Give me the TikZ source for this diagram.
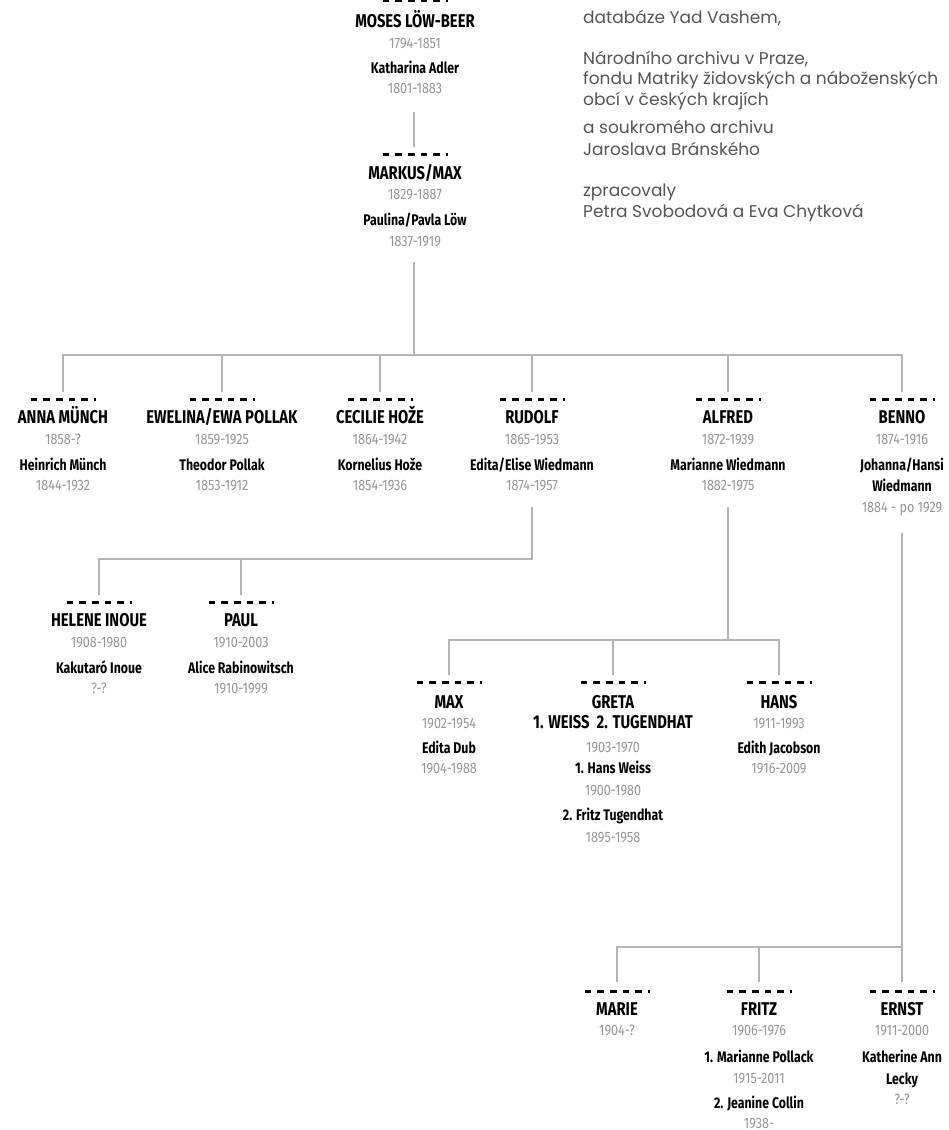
\documentclass[tikz,border=0pt]{standalone}
\usepackage{fontspec}
\newfontfamily\cf[FakeStretch=0.8]{Fira Sans}
\newfontfamily\df[FakeStretch=0.84]{Fira Sans}
\newfontfamily\rf{Poppins}
\definecolor{lnc}{RGB}{180,180,180}
\definecolor{dtc}{RGB}{150,150,150}
\definecolor{txc}{RGB}{85,85,85}
\tikzset{
 nm/.style={anchor=base, yshift=-6.3pt, inner sep=0pt, font=\cf\bfseries\fontsize{18.5}{18.5}\selectfont},
 sp/.style={anchor=base, yshift=-5.3pt, inner sep=0pt, font=\cf\bfseries\fontsize{15.4}{15.4}\selectfont},
 dt/.style={anchor=base, yshift=-5.2pt, inner sep=0pt, text=dtc, font=\df\fontsize{15}{15}\selectfont},
 rt/.style={anchor=base west, yshift=-5.5pt, inner sep=0pt, text=txc, font=\rf\fontsize{17}{17}\selectfont},
 conn/.style={draw=lnc, line width=1.8pt},
 dmark/.style={line width=3pt, dash pattern=on 6.7pt off 6pt},
}
\begin{document}
\begin{tikzpicture}[x=1pt,y=-1pt]
\useasboundingbox (0,0) rectangle (948,1130);
\fill[white] (0,0) rectangle (948,1130);

% dash markers
\foreach \x/\y in {415/0,415/154,63/399,222/399,380/399,532/399,728/399,902/399,99/602,241/602,449/682,613/682,779/682,617/991,759/991,902/991}
  \draw[dmark] ({\x-32.5},\y) -- ++(65,0);

% generation 1
\node[nm] (moses) at (415,21) {MOSES LÖW-BEER};
\node[dt] (moses-d) at (415,43) {1794-1851};
\node[sp] (moses-s) at (415,68) {Katharina Adler};
\node[dt] (moses-sd) at (415,88) {1801-1883};

% generation 2
\node[nm] (markus) at (415,173) {MARKUS/MAX};
\node[dt] (markus-d) at (415,194) {1829-1887};
\node[sp] (markus-s) at (415,220) {Paulina/Pavla Löw};
\node[dt] (markus-sd) at (415,241) {1837-1919};

% generation 3
\node[nm] (anna) at (63,417) {ANNA MÜNCH};
\node[dt] (anna-d) at (63,439) {1858-?};
\node[sp] (anna-s) at (63,465) {Heinrich Münch};
\node[dt] (anna-sd) at (63,485) {1844-1932};

\node[nm] (ewelina) at (222,417) {EWELINA/EWA POLLAK};
\node[dt] (ewelina-d) at (222,439) {1859-1925};
\node[sp] (ewelina-s) at (222,465) {Theodor Pollak};
\node[dt] (ewelina-sd) at (222,485) {1853-1912};

\node[nm] (cecilie) at (380,417) {CECILIE HOŽE};
\node[dt] (cecilie-d) at (380,439) {1864-1942};
\node[sp] (cecilie-s) at (380,465) {Kornelius Hože};
\node[dt] (cecilie-sd) at (380,485) {1854-1936};

\node[nm] (rudolf) at (532,417) {RUDOLF};
\node[dt] (rudolf-d) at (532,439) {1865-1953};
\node[sp] (rudolf-s) at (532,465) {Edita/Elise Wiedmann};
\node[dt] (rudolf-sd) at (532,485) {1874-1957};

\node[nm] (alfred) at (728,417) {ALFRED};
\node[dt] (alfred-d) at (728,439) {1872-1939};
\node[sp] (alfred-s) at (728,465) {Marianne Wiedmann};
\node[dt] (alfred-sd) at (728,485) {1882-1975};

\node[nm] (benno) at (902,417) {BENNO};
\node[dt] (benno-d) at (902,439) {1874-1916};
\node[sp] (benno-s) at (902,465) {Johanna/Hansi};
\node[sp] (benno-s2) at (902,486) {Wiedmann};
\node[dt] (benno-sd) at (902,507) {1884 - po 1929};

% generation 4 (Rudolf)
\node[nm] (helene) at (99,620) {HELENE INOUE};
\node[dt] (helene-d) at (99,642) {1908-1980};
\node[sp] (helene-s) at (99,668) {Kakutaró Inoue};
\node[dt] (helene-sd) at (99,688) {?-?};

\node[nm] (paul) at (241,620) {PAUL};
\node[dt] (paul-d) at (241,642) {1910-2003};
\node[sp] (paul-s) at (241,668) {Alice Rabinowitsch};
\node[dt] (paul-sd) at (241,688) {1910-1999};

% generation 4 (Alfred)
\node[nm] (max) at (449,702) {MAX};
\node[dt] (max-d) at (449,723) {1902-1954};
\node[sp] (max-s) at (449,748) {Edita Dub};
\node[dt] (max-sd) at (449,768) {1904-1988};

\node[nm] (greta) at (613,702) {GRETA};
\node[nm] (greta2) at (613,722) {1. WEISS~~2. TUGENDHAT};
\node[dt] (greta-d) at (613,747) {1903-1970};
\node[sp] (greta-s1) at (613,768) {1. Hans Weiss};
\node[dt] (greta-sd1) at (613,790) {1900-1980};
\node[sp] (greta-s2) at (613,815) {2. Fritz Tugendhat};
\node[dt] (greta-sd2) at (613,837) {1895-1958};

\node[nm] (hans) at (779,702) {HANS};
\node[dt] (hans-d) at (779,723) {1911-1993};
\node[sp] (hans-s) at (779,748) {Edith Jacobson};
\node[dt] (hans-sd) at (779,768) {1916-2009};

% generation 4 (Benno)
\node[nm] (marie) at (617,1009) {MARIE};
\node[dt] (marie-d) at (617,1030) {1904-?};

\node[nm] (fritz) at (759,1009) {FRITZ};
\node[dt] (fritz-d) at (759,1030) {1906-1976};
\node[sp] (fritz-s1) at (759,1057) {1. Marianne Pollack};
\node[dt] (fritz-sd1) at (759,1078) {1915-2011};
\node[sp] (fritz-s2) at (759,1103) {2. Jeanine Collin};
\node[dt] (fritz-sd2) at (759,1123) {1938-};

\node[nm] (ernst) at (902,1009) {ERNST};
\node[dt] (ernst-d) at (902,1030) {1911-2000};
\node[sp] (ernst-s) at (902,1057) {Katherine Ann};
\node[sp] (ernst-s2) at (902,1079) {Lecky};
\node[dt] (ernst-sd) at (902,1099) {?-?};

% source text
\node[rt] (src1) at (583,18) {databáze Yad Vashem,};
\node[rt] (src2) at (583,59) {Národního archivu v Praze,};
\node[rt] (src3) at (583,79) {fondu Matriky židovských a náboženských};
\node[rt] (src4) at (583,100) {obcí v českých krajích};
\node[rt] (src5) at (583,128) {a soukromého archivu};
\node[rt] (src6) at (583,150) {Jaroslava Bránského};
\node[rt] (src7) at (583,191) {zpracovaly};
\node[rt] (src8) at (583,212) {Petra Svobodová a Eva Chytková};

% connector coordinates
\coordinate (moses-b) at (414,112);
\coordinate (markus-t) at (414,147);
\coordinate (markus-b) at (414,262);
\coordinate (bar1) at (414,355);
\foreach \n/\x in {anna/63,ewelina/222,cecilie/380,rudolf/532,alfred/728,benno/902}
  \coordinate (\n-t) at (\x,392);
\coordinate (rudolf-b) at (532,507);
\coordinate (bar2) at (532,559);
\coordinate (helene-t) at (99,595);
\coordinate (paul-t) at (241,595);
\coordinate (alfred-b) at (728,507);
\coordinate (bar3) at (728,640);
\coordinate (max-t) at (449,675);
\coordinate (greta-t) at (613,675);
\coordinate (hans-t) at (779,675);
\coordinate (benno-b) at (902,533);
\coordinate (bar4) at (902,947);
\coordinate (marie-t) at (617,982);
\coordinate (fritz-t) at (759,982);
\coordinate (ernst-t) at (902,982);

% connectors
\draw[conn] (moses-b) -- (markus-t);
\draw[conn] (markus-b) -- (bar1);
\draw[conn] (anna-t) -- (anna-t |- bar1) -- (benno-t |- bar1) -- (benno-t);
\foreach \n in {ewelina,cecilie,rudolf,alfred}
  \draw[conn] (\n-t) -- (\n-t |- bar1);
\draw[conn] (rudolf-b) -- (bar2) -- (helene-t |- bar2) -- (helene-t);
\draw[conn] (paul-t) -- (paul-t |- bar2);
\draw[conn] (alfred-b) -- (bar3);
\draw[conn] (max-t) -- (max-t |- bar3) -- (hans-t |- bar3) -- (hans-t);
\draw[conn] (greta-t) -- (greta-t |- bar3);
\draw[conn] (benno-b) -- (ernst-t);
\draw[conn] (marie-t) -- (marie-t |- bar4) -- (bar4);
\draw[conn] (fritz-t) -- (fritz-t |- bar4);
\end{tikzpicture}
\end{document}
